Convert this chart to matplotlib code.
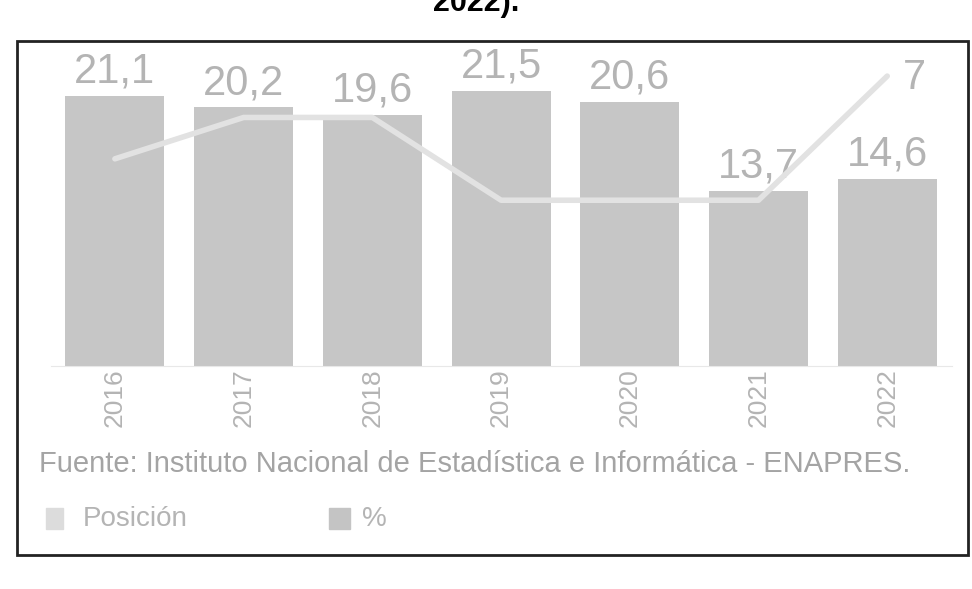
import matplotlib
matplotlib.use('Agg')
import matplotlib.pyplot as plt
from matplotlib.patches import Rectangle

plt.rcParams['font.family'] = ['Liberation Sans', 'DejaVu Sans']

years = ['2016', '2017', '2018', '2019', '2020', '2021', '2022']
percent = [21.1, 20.2, 19.6, 21.5, 20.6, 13.7, 14.6]
position = [5, 6, 6, 4, 4, 4, 7]

bar_color = '#c6c6c6'
line_color = '#e2e2e2'
text_color = '#b4b4b4'

fig = plt.figure(figsize=(9.72, 5.89), dpi=100)
ax = fig.add_axes([0.052, 0.379, 0.927, 0.534])
x = list(range(len(years)))

ax.bar(x, percent, width=0.77, color=bar_color, zorder=1)
for xi, v in zip(x, percent):
    ax.text(xi, v + 0.35, f'{v:.1f}'.replace('.', ','), ha='center', va='bottom',
            fontsize=30, color=text_color)
ax.set_xlim(-0.5, 6.5)
ax.set_ylim(0, 24.6)
ax.set_yticks([])
ax.set_xticks(x)
ax.set_xticklabels(years, rotation=90, fontsize=19, color=text_color)
ax.tick_params(axis='x', length=0, pad=2)
for s in ax.spines.values():
    s.set_visible(False)
ax.spines['bottom'].set_visible(True)
ax.spines['bottom'].set_color('#e8e8e8')

ax2 = ax.twinx()
ax2.plot(x, position, color=line_color, linewidth=4, solid_capstyle='round', zorder=3)
ax2.text(x[-1] + 0.12, position[-1] - 0.05, str(position[-1]), ha='left', va='center',
         fontsize=30, color=text_color)
ax2.set_ylim(0, 7.6)
ax2.set_yticks([])
for s in ax2.spines.values():
    s.set_visible(False)

# title fragment cut at top
fig.text(0.49, 0.995, '2022).', ha='center', va='center', fontsize=22,
         fontweight='bold', color='black')

# source and legend
fig.text(0.04, 0.213, 'Fuente: Instituto Nacional de Estadística e Informática - ENAPRES.',
         fontsize=21, color='#a4a4a4', va='center', ha='left')

fig.patches.append(Rectangle((0.047, 0.102), 0.018, 0.036, transform=fig.transFigure,
                             color='#dcdcdc'))
fig.text(0.085, 0.118, 'Posición', fontsize=20, color=text_color, va='center')
fig.patches.append(Rectangle((0.338, 0.102), 0.022, 0.036, transform=fig.transFigure,
                             color='#c4c4c4'))
fig.text(0.372, 0.118, '%', fontsize=20, color=text_color, va='center')

# outer frame
fig.patches.append(Rectangle((0.018, 0.058), 0.978, 0.872, transform=fig.transFigure,
                             fill=False, edgecolor='#222222', linewidth=2))

fig.savefig('out.png', dpi=100)
